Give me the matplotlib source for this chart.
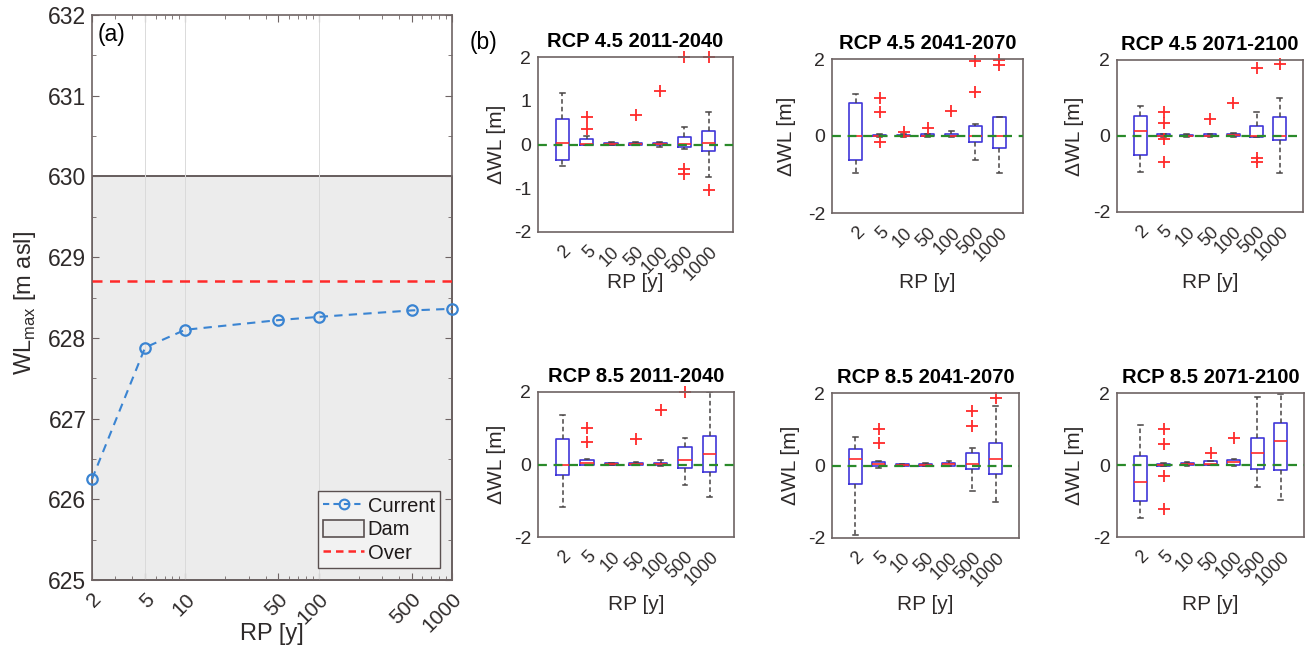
import numpy as np
import matplotlib
matplotlib.use("Agg")
import matplotlib.pyplot as plt
from matplotlib.patches import Patch
from matplotlib.lines import Line2D
from matplotlib.ticker import MultipleLocator, LogLocator, NullFormatter

plt.rcParams["font.family"] = ["Liberation Sans", "DejaVu Sans"]
plt.rcParams["mathtext.fontset"] = "custom"
plt.rcParams["mathtext.rm"] = "Liberation Sans"
plt.rcParams["axes.unicode_minus"] = False

# return periods (years)
rp = [2, 5, 10, 50, 100, 500, 1000]
rp_labels = ["2", "5", "10", "50", "100", "500", "1000"]

# (a) current maximum water level and thresholds
wl_current = [626.25, 627.88, 628.10, 628.22, 628.26, 628.34, 628.36]
dam_crest = 630.0
overtopping = 628.7

# (b) change in maximum water level, one row per scenario/period
panel_titles = [
    "RCP 4.5 2011-2040", "RCP 4.5 2041-2070", "RCP 4.5 2071-2100",
    "RCP 8.5 2011-2040", "RCP 8.5 2041-2070", "RCP 8.5 2071-2100",
]
box_q1 = [
    [-0.35, 0.00, -0.01, -0.01, -0.01, -0.06, -0.14],
    [-0.63, -0.01, -0.01, -0.01, -0.01, -0.15, -0.32],
    [-0.50, -0.01, -0.01, -0.01, -0.01, -0.02, -0.10],
    [-0.30, 0.00, -0.01, -0.01, -0.01, -0.11, -0.20],
    [-0.50, -0.02, -0.01, -0.01, -0.01, -0.10, -0.23],
    [-1.00, -0.02, -0.01, 0.00, 0.00, -0.10, -0.15],
]
box_med = [
    [0.03, 0.02, 0.01, 0.01, 0.01, 0.02, 0.03],
    [0.00, 0.00, 0.01, 0.01, 0.01, 0.00, 0.00],
    [0.12, 0.01, 0.01, 0.01, 0.02, 0.00, 0.00],
    [0.00, 0.03, 0.01, 0.01, 0.02, 0.12, 0.30],
    [0.17, 0.03, 0.01, 0.01, 0.03, 0.05, 0.17],
    [-0.47, 0.01, 0.02, 0.04, 0.08, 0.33, 0.68],
]
box_q3 = [
    [0.59, 0.13, 0.03, 0.03, 0.04, 0.17, 0.32],
    [0.87, 0.03, 0.03, 0.04, 0.05, 0.27, 0.50],
    [0.53, 0.04, 0.03, 0.04, 0.06, 0.26, 0.49],
    [0.69, 0.12, 0.03, 0.04, 0.05, 0.47, 0.80],
    [0.46, 0.10, 0.03, 0.04, 0.08, 0.35, 0.62],
    [0.24, 0.04, 0.05, 0.10, 0.15, 0.75, 1.18],
]
whisk_lo = [
    [-0.48, 0.00, -0.02, -0.02, -0.05, -0.10, -0.75],
    [-0.97, -0.02, -0.02, -0.02, -0.02, -0.63, -0.97],
    [-0.94, -0.02, -0.02, -0.02, -0.02, -0.03, -0.98],
    [-1.17, 0.00, -0.02, -0.02, -0.03, -0.57, -0.90],
    [-1.93, -0.08, -0.02, -0.02, -0.02, -0.69, -1.00],
    [-1.46, -0.03, -0.02, -0.01, -0.02, -0.61, -0.98],
]
whisk_hi = [
    [1.18, 0.20, 0.05, 0.05, 0.06, 0.41, 0.75],
    [1.10, 0.04, 0.05, 0.06, 0.12, 0.30, 0.50],
    [0.79, 0.05, 0.05, 0.06, 0.08, 0.64, 0.99],
    [1.37, 0.14, 0.05, 0.06, 0.12, 0.72, 2.00],
    [0.78, 0.12, 0.05, 0.06, 0.12, 0.49, 1.63],
    [1.10, 0.05, 0.07, 0.12, 0.18, 1.89, 1.98],
]
outliers = [
    [[], [0.62, 0.35], [], [0.68], [1.22], [1.99, -0.55, -0.68], [1.99, -1.05]],
    [[], [1.00, 0.62, -0.15], [0.10], [0.20], [0.65], [1.94, 1.14], [1.97, 1.85]],
    [[], [0.64, 0.35, -0.08, -0.68], [], [0.46], [0.88], [1.80, -0.58, -0.68], [1.90]],
    [[], [1.00, 0.63], [], [0.70], [1.50], [1.99], []],
    [[], [1.00, 0.63], [], [], [], [1.49, 1.10], [1.87]],
    [[], [0.99, 0.57, -0.30, -1.22], [], [0.32], [0.75], [], []],
]
y_ticks = [[-2, -1, 0, 1, 2], [-2, 0, 2], [-2, 0, 2], [-2, 0, 2], [-2, 0, 2], [-2, 0, 2]]

W, H = 1308, 646
fig = plt.figure(figsize=(W / 100, H / 100), dpi=100)


def px_axes(x0, x1, y0, y1):
    return fig.add_axes([x0 / W, (H - y1) / H, (x1 - x0) / W, (y1 - y0) / H])


spine_col = "#6e6464"
text_col = "#2e2a2a"
blue = "#3a84d2"
red = "#ff2a2a"

# ---- (a) ----
ax = px_axes(92, 452, 15, 580)
ax.set_xscale("log")
ax.fill_between([rp[0], rp[-1]], 625, dam_crest, facecolor="#ececec",
                edgecolor="#5a5050", linewidth=1.3, zorder=1)
for xg in [5, 10, 100]:
    ax.axvline(xg, color="#dadada", linewidth=0.7, zorder=2)
ax.axhline(overtopping, color=red, linestyle=(0, (4, 3)), linewidth=1.8, zorder=3)
ax.plot(rp, wl_current, color=blue, linestyle=(0, (4, 3)), linewidth=1.5,
        marker="o", markerfacecolor="none", markersize=7.5, markeredgewidth=1.6,
        zorder=4, clip_on=False)
ax.set_xlim(rp[0], rp[-1])
ax.set_ylim(625, 632)
ax.set_xticks(rp)
ax.set_xticklabels(rp_labels, rotation=45, ha="right", va="top",
                   rotation_mode="anchor", fontsize=15, color=text_col)
ax.xaxis.set_minor_locator(LogLocator(base=10, subs=np.arange(2, 10)))
ax.xaxis.set_minor_formatter(NullFormatter())
ax.yaxis.set_minor_locator(MultipleLocator(0.5))
ax.tick_params(which="both", direction="in", color=spine_col, top=True, right=True)
ax.tick_params(which="major", length=5)
ax.tick_params(which="minor", length=3)
ax.tick_params(axis="y", labelsize=16.5, labelcolor=text_col, pad=4)
ax.tick_params(axis="x", pad=7)
ax.set_xlabel("RP [y]", fontsize=17, color=text_col)
ax.xaxis.label.set_va("center")
ax.xaxis.set_label_coords(0.5, (580 - 634) / 565)
ax.set_ylabel(r"WL$_\mathregular{max}$ [m asl]", fontsize=17, color=text_col)
ax.yaxis.label.set_va("center")
ax.yaxis.set_label_coords((25 - 92) / 360, (580 - 303) / 565)
for s in ax.spines.values():
    s.set_color(spine_col)
    s.set_linewidth(1.2)
ax.text(0.015, 0.985, "(a)", transform=ax.transAxes, ha="left", va="top",
        fontsize=16.5, color="black")
handles = [
    Line2D([], [], color=blue, linestyle=(0, (3, 2)), linewidth=1.5, marker="o",
           markerfacecolor="none", markersize=7, markeredgewidth=1.5),
    Patch(facecolor="#ececec", edgecolor="#5a5050", linewidth=1.2),
    Line2D([], [], color=red, linestyle=(0, (3, 2)), linewidth=1.8),
]
leg = ax.legend(handles, ["Current", "Dam", "Over"], loc="lower right", fontsize=14.5,
                frameon=True, fancybox=False, framealpha=1, borderpad=0.25,
                labelspacing=0.2, handlelength=2.0, handleheight=0.95,
                handletextpad=0.2, borderaxespad=0.6)
leg.get_frame().set_edgecolor("#5a5050")
leg.get_frame().set_linewidth(1.0)
leg.get_frame().set_facecolor("#f2f2f2")
for t in leg.get_texts():
    t.set_color("#1e1a1a")

fig.text(470 / W, 1 - 42 / H, "(b)", fontsize=16.5, ha="left", va="center")

# ---- (b) ----
boxes_px = [
    (538, 733, 57, 232), (832, 1023, 59, 213), (1117, 1303, 60, 212),
    (538, 734, 392, 537), (832, 1019, 393, 538), (1117, 1304, 393, 537),
]
ylabel_x = [497, 787, 1075, 497, 790, 1075]
xlabel_y = [283, 283, 283, 604, 604, 604]
positions = np.arange(1, len(rp) + 1)
for k, (x0, x1, y0, y1) in enumerate(boxes_px):
    bx = px_axes(x0, x1, y0, y1)
    stats = []
    for j in range(len(rp)):
        stats.append(dict(med=box_med[k][j], q1=box_q1[k][j], q3=box_q3[k][j],
                          whislo=whisk_lo[k][j], whishi=whisk_hi[k][j],
                          fliers=outliers[k][j]))
    parts = bx.bxp(stats, positions=positions, widths=0.55, patch_artist=False,
                   boxprops=dict(color="#4036d8", linewidth=1.2),
                   medianprops=dict(color=red, linewidth=1.2),
                   whiskerprops=dict(color="#484444", linestyle=(0, (3, 2)), linewidth=1.1),
                   capprops=dict(color="#484444", linewidth=1.1),
                   capwidths=0.2,
                   flierprops=dict(marker="+", markeredgecolor=red,
                                   markersize=9, markeredgewidth=1.3, linestyle="none"))
    for fl in parts["fliers"]:
        fl.set_clip_on(False)
    bx.axhline(0, color="#2a8a2a", linestyle=(0, (4, 3)), linewidth=1.6, zorder=5)
    bx.set_xlim(0, len(rp) + 1)
    bx.set_ylim(-2, 2)
    bx.set_yticks(y_ticks[k])
    bx.set_xticks(positions)
    bx.set_xticklabels(rp_labels, rotation=45, ha="right", va="top",
                       rotation_mode="anchor", fontsize=13, color=text_col)
    bx.tick_params(axis="y", labelsize=14, labelcolor=text_col, length=0, pad=5)
    bx.tick_params(axis="x", length=0, pad=8)
    bx.set_title(panel_titles[k], fontsize=14.5, fontweight="bold", pad=7)
    h = y1 - y0
    w = x1 - x0
    bx.set_ylabel("\u0394WL [m]", fontsize=15, color=text_col)
    bx.yaxis.label.set_va("center")
    bx.yaxis.set_label_coords((ylabel_x[k] - x0) / w, 0.5)
    bx.set_xlabel("RP [y]", fontsize=15, color=text_col)
    bx.xaxis.label.set_va("center")
    bx.xaxis.set_label_coords(0.5, (y1 - xlabel_y[k]) / h)
    for s in bx.spines.values():
        s.set_color(spine_col)
        s.set_linewidth(1.2)

fig.savefig("out.png", dpi=100, facecolor="white")
